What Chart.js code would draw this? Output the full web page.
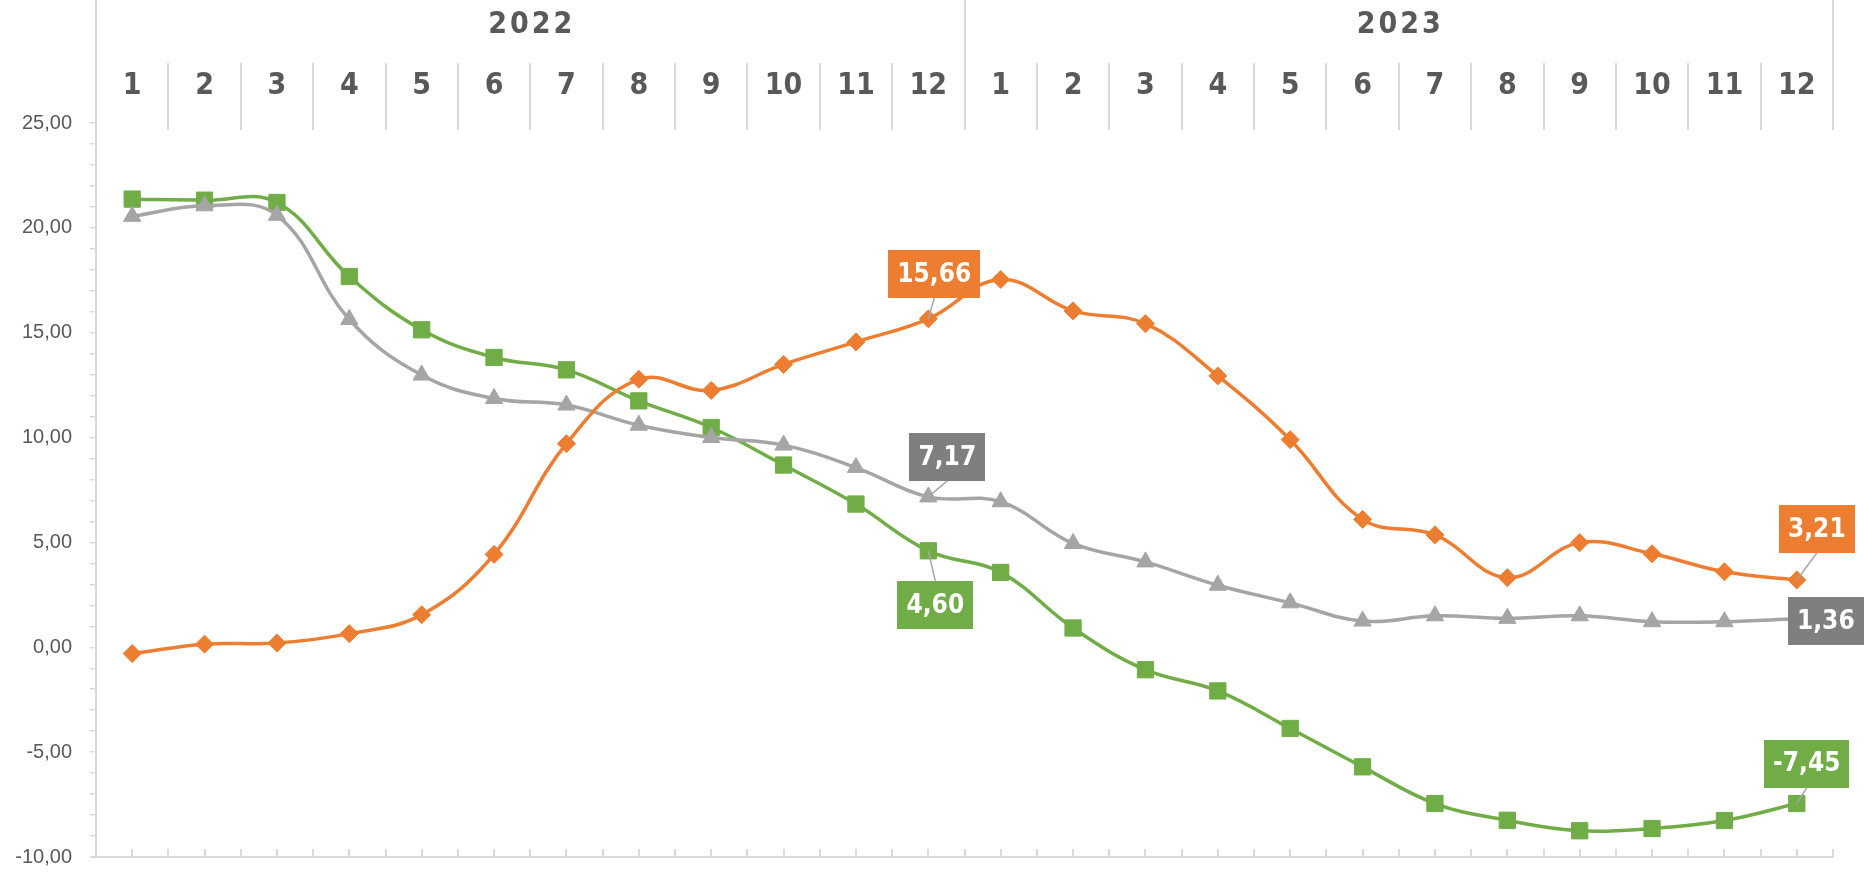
<!DOCTYPE html>
<html>
<head>
<meta charset="utf-8">
<script src="https://cdn.jsdelivr.net/npm/chart.js@4/dist/chart.umd.min.js"></script>
<style>
  html, body { margin: 0; padding: 0; background: #fff; }
  #wrap { width: 1872px; height: 874px; }
</style>
</head>
<body>
<div id="wrap"><canvas id="chart" width="1872" height="874"></canvas></div>
<script>
/* monthly series, Jan 2022 .. Dec 2023 */

const years  = ['2022', '2023'];
const months = ['1','2','3','4','5','6','7','8','9','10','11','12',
                '1','2','3','4','5','6','7','8','9','10','11','12'];

const orangeVals = [-0.30, 0.15, 0.20, 0.65, 1.55, 4.43, 9.71, 12.78, 12.25, 13.49, 14.56, 15.66,
                    17.54, 16.04, 15.43, 12.94, 9.90, 6.10, 5.36, 3.32, 4.99, 4.46, 3.60, 3.21];
const greyVals   = [20.55, 21.05, 20.60, 15.63, 12.98, 11.86, 11.55, 10.59, 10.00, 9.64, 8.57, 7.17,
                    6.94, 4.95, 4.07, 2.96, 2.12, 1.25, 1.50, 1.38, 1.50, 1.22, 1.22, 1.36];
const greenVals  = [21.37, 21.32, 21.21, 17.68, 15.14, 13.82, 13.23, 11.75, 10.48, 8.69, 6.83, 4.60,
                    3.57, 0.92, -1.07, -2.08, -3.87, -5.70, -7.45, -8.25, -8.75, -8.64, -8.26, -7.45];

const yMin = -10, yMax = 25, yMajorStep = 5, yMinorStep = 1;

const fmtNum = v => v.toFixed(2).replace('.', ',');

const GRID = '#d9d9d9';
const TEXT = '#595959';
const HEAD_FONT = '"DejaVu Sans Condensed", "Liberation Sans Narrow", Roboto, sans-serif';

// header with years / months, and the bottom axis with its small ticks
const headerPlugin = {
  id: 'header',
  afterDraw(chart) {
    const { ctx, chartArea: ca, scales: { x } } = chart;
    const step = x.getPixelForValue(1) - x.getPixelForValue(0);
    const perYear = months.length / years.length;
    ctx.save();
    ctx.strokeStyle = GRID;
    ctx.lineWidth = 2;

    const line = (x1, y1, x2, y2) => {
      ctx.beginPath(); ctx.moveTo(x1, y1); ctx.lineTo(x2, y2); ctx.stroke();
    };

    line(ca.left, 0, ca.left, ca.top);
    for (let i = 1; i <= months.length; i++) {
      const bx = Math.round(x.getPixelForValue(i - 1) + step / 2);
      if (i % perYear === 0) line(bx, 0, bx, 130);
      else line(bx, 63, bx, 130);
    }

    // bottom axis
    line(ca.left - 5, ca.bottom, ca.right, ca.bottom);
    for (let i = 0; i <= months.length * 2; i++) {
      const tx = Math.round(ca.left + i * step / 2);
      line(tx, ca.bottom, tx, ca.bottom - 8);
    }

    ctx.fillStyle = TEXT;
    ctx.textAlign = 'center';
    ctx.textBaseline = 'middle';
    ctx.font = 'bold 30px ' + HEAD_FONT;
    months.forEach((m, i) => ctx.fillText(m, x.getPixelForValue(i), 86));

    ctx.letterSpacing = '3px';
    years.forEach((yr, j) => {
      const a = x.getPixelForValue(j * perYear);
      const b = x.getPixelForValue(j * perYear + perYear - 1);
      ctx.fillText(yr, (a + b) / 2 + 1.5, 25);
    });
    ctx.restore();
  }
};

// boxed value labels with leader lines
const boxPlugin = {
  id: 'valueBoxes',
  afterDatasetsDraw(chart, args, opts) {
    const { ctx } = chart;
    ctx.save();
    ctx.font = opts.font;
    ctx.textAlign = 'center';
    ctx.textBaseline = 'middle';
    opts.items.forEach(it => {
      const val = chart.data.datasets[it.ds].data[it.index];
      const pt  = chart.getDatasetMeta(it.ds).data[it.index];
      const text = fmtNum(val);
      const w = ctx.measureText(text).width + 2 * opts.padX;
      const h = opts.height;
      const cx = pt.x + it.dx, cy = pt.y + it.dy;
      if (Math.abs(it.dy) > h / 2 + 4) {
        const ey = it.dy < 0 ? cy + h / 2 : cy - h / 2;
        ctx.strokeStyle = '#a6a6a6';
        ctx.lineWidth = 1.5;
        ctx.beginPath(); ctx.moveTo(cx, ey); ctx.lineTo(pt.x, pt.y); ctx.stroke();
      }
      ctx.fillStyle = it.bg;
      ctx.fillRect(Math.round(cx - w / 2), Math.round(cy - h / 2), Math.round(w), h);
      ctx.fillStyle = '#fff';
      ctx.fillText(text, cx, cy + 1);
    });
    ctx.restore();
  }
};

const mkSet = (data, color, style, radius) => ({
  data,
  borderColor: color,
  backgroundColor: color,
  borderWidth: 3.5,
  tension: 0.4,
  pointStyle: style,
  pointRadius: radius,
  pointBorderWidth: 1,
  pointBackgroundColor: color,
  pointBorderColor: color,
  clip: false,
});

new Chart(document.getElementById('chart'), {
  type: 'line',
  data: {
    labels: months,
    datasets: [
      mkSet(orangeVals, '#ED7D31', 'rectRot', 9),
      mkSet(greyVals,   '#A5A5A5', 'triangle', 10),
      mkSet(greenVals,  '#70AD47', 'rect', 11.5),
    ]
  },
  options: {
    responsive: false,
    animation: false,
    devicePixelRatio: 1,
    layout: { padding: { left: 0, top: 123, right: 39, bottom: 17 } },
    plugins: {
      legend: { display: false },
      tooltip: { enabled: false },
      valueBoxes: {
        font: 'bold 26px ' + HEAD_FONT,
        padX: 9,
        height: 48,
        items: [
          { ds: 0, index: 11, dx: 6,  dy: -45, bg: '#ED7D31' },
          { ds: 1, index: 11, dx: 19, dy: -40, bg: '#7F7F7F' },
          { ds: 2, index: 11, dx: 7,  dy: 54,  bg: '#70AD47' },
          { ds: 0, index: 23, dx: 20, dy: -51, bg: '#ED7D31' },
          { ds: 1, index: 23, dx: 29, dy: 2,   bg: '#7F7F7F' },
          { ds: 2, index: 23, dx: 10, dy: -40, bg: '#70AD47' },
        ]
      }
    },
    scales: {
      x: { type: 'category', display: false, offset: true },
      y: {
        min: yMin,
        max: yMax,
        // fixed axis width, and no extra room for the end labels
        afterFit: s => { s.width = 96; s.paddingTop = 0; s.paddingBottom = 0; },
        border: { color: GRID, width: 2 },
        grid: { drawOnChartArea: false, drawTicks: true, tickLength: 6, color: GRID, lineWidth: 1.5 },
        ticks: {
          stepSize: yMinorStep,
          autoSkip: false,
          padding: 18,
          color: TEXT,
          font: { family: '"Liberation Sans", Arial, sans-serif', size: 20 },
          callback: v => (v % yMajorStep === 0 ? fmtNum(v) : '')
        }
      }
    }
  },
  plugins: [headerPlugin, boxPlugin]
});
</script>
</body>
</html>
